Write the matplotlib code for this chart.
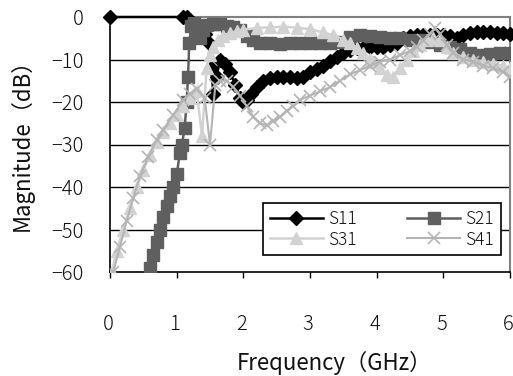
import numpy as np
import matplotlib
matplotlib.use("Agg")
import matplotlib.pyplot as plt
import matplotlib.transforms as mtransforms

plt.rcParams['font.family'] = ['Noto Sans CJK JP', 'DejaVu Sans']
plt.rcParams['font.weight'] = 'light'
plt.rcParams['axes.unicode_minus'] = True

# ---------------- data ----------------
s11_f = [0, 1.10, 1.15, 1.20, 1.25, 1.30, 1.35, 1.42, 1.48, 1.52, 1.55, 1.60, 1.65, 1.72,
         1.80, 1.88, 1.95, 2.00, 2.05, 2.12, 2.20, 2.30, 2.40, 2.50, 2.60, 2.70, 2.80, 2.90,
         3.00, 3.10, 3.20, 3.30, 3.40, 3.50, 3.60, 3.70, 3.80, 3.90, 4.00, 4.10, 4.20, 4.30,
         4.40, 4.50, 4.60, 4.70, 4.80, 4.90, 5.00, 5.10, 5.20, 5.30, 5.40, 5.50, 5.60, 5.70,
         5.80, 5.90, 6.00]
s11_db = [0, 0, 0, -1, -1.5, -2, -2.5, -4, -6, -12, -18, -14, -10, -11,
          -13, -16, -19, -20, -19.5, -18, -16.5, -15, -14.3, -14, -14, -14.2, -14.4, -14,
          -13, -12.3, -11.5, -10.3, -9.3, -8.5, -7.8, -7.4, -7.2, -7, -7, -7, -6.5, -6,
          -5, -4.5, -4.2, -4.2, -4.2, -4.3, -4.3, -4.5, -4.9, -4.3, -3.8, -3.6, -3.6, -3.6,
          -3.7, -3.8, -3.9]

s21_f = [0.60, 0.65, 0.70, 0.75, 0.80, 0.85, 0.90, 0.95, 1.00, 1.05, 1.08, 1.12, 1.15, 1.17,
         1.19, 1.22, 1.26, 1.30, 1.35, 1.40, 1.45, 1.55, 1.65, 1.75, 1.85, 1.95, 2.05, 2.15,
         2.25, 2.40, 2.55, 2.70, 2.85, 3.00, 3.15, 3.30, 3.45, 3.60, 3.75, 3.90, 4.05, 4.20,
         4.35, 4.50, 4.65, 4.80, 4.95, 5.10, 5.25, 5.40, 5.55, 5.70, 5.85, 6.00]
s21_db = [-59, -56, -53, -50, -47, -44.5, -42, -40, -37, -32, -30, -26, -20, -14,
          -6, -2, -1, -3, -5, -3, -1.8, -1.6, -1.7, -2, -2.3, -3, -4.5, -5.5,
          -6, -6.2, -6.3, -6.2, -6, -6, -6, -6, -5.8, -4.8, -4.3, -4.5, -4.8, -5,
          -5, -5.3, -5.4, -5.8, -6.5, -7, -7.5, -8.5, -9, -8.7, -8.5, -8.5]

s31_f = [0.03, 0.10, 0.20, 0.30, 0.40, 0.50, 0.60, 0.70, 0.80, 0.90, 1.00, 1.10, 1.20, 1.30,
         1.38, 1.45, 1.50, 1.55, 1.62, 1.70, 1.80, 1.90, 2.00, 2.20, 2.40, 2.60, 2.80, 3.00,
         3.20, 3.35, 3.50, 3.60, 3.70, 3.80, 3.90, 3.95, 4.05, 4.15, 4.25, 4.35, 4.45, 4.55,
         4.65, 4.75, 4.85, 4.95, 5.05, 5.15, 5.30, 5.45, 5.60, 5.75, 5.90, 6.00]
s31_db = [-60, -55, -50, -45, -40, -36, -32.5, -29.5, -27, -25, -23, -21, -19, -17.5,
          -28, -12, -9, -7, -5.5, -4.5, -3.8, -3.3, -3, -2.6, -2.4, -2.3, -2.5, -2.9,
          -3.6, -4.3, -5.3, -6.2, -7.3, -8.5, -9.8, -10.6, -12, -13.6, -14, -12, -10, -8,
          -6.5, -5.5, -5, -5.5, -7, -8.5, -9.5, -10, -10.5, -11, -11.5, -12]

s41_f = [0.05, 0.15, 0.25, 0.35, 0.45, 0.57, 0.70, 0.80, 0.95, 1.10, 1.20, 1.30, 1.42, 1.50,
         1.58, 1.65, 1.75, 1.85, 1.95, 2.05, 2.15, 2.25, 2.35, 2.45, 2.55, 2.65, 2.75, 2.85,
         3.00, 3.15, 3.30, 3.45, 3.60, 3.75, 3.90, 4.05, 4.20, 4.35, 4.50, 4.60, 4.70, 4.80,
         4.88, 4.95, 5.05, 5.15, 5.30, 5.45, 5.60, 5.75, 5.90, 6.00]
s41_db = [-60, -54, -48, -42.5, -37.5, -33, -29, -26.5, -23, -19.5, -18, -17, -19, -30,
          -16, -15, -15, -16.5, -18.5, -21, -23.5, -25, -25.5, -24.5, -23.5, -22, -21, -19.5,
          -18.5, -17.5, -16.5, -15, -13.5, -12.5, -11.5, -10.5, -10, -9, -8, -7, -5.5, -4,
          -2.5, -4, -6.5, -8.5, -10, -10.5, -11.5, -12, -13, -14]

x_ticks = [0, 1, 2, 3, 4, 5, 6]
y_ticks = [0, -10, -20, -30, -40, -50, -60]
series_names = ['S11', 'S21', 'S31', 'S41']

# ---------------- figure ----------------
W, H = 513, 376
fig = plt.figure(figsize=(W / 100, H / 100), dpi=100)
ax = fig.add_axes([110 / W, 1 - 272 / H, 400 / W, 255 / H])

h11, = ax.plot(s11_f, s11_db, color='black', lw=1.8, marker='D', ms=7, mec='black', mfc='black',
               label=series_names[0], clip_on=False, zorder=3)
h21, = ax.plot(s21_f, s21_db, color='#5f5f5f', lw=1.8, marker='s', ms=8, mec='#5f5f5f',
               mfc='#5f5f5f', label=series_names[1], zorder=4)
h31, = ax.plot(s31_f, s31_db, color='#d2d2d2', lw=1.8, marker='^', ms=9, mec='#d2d2d2',
               mfc='#d2d2d2', label=series_names[2], zorder=5)
h41, = ax.plot(s41_f, s41_db, color='#b4b4b4', lw=1.5, marker='x', ms=9, mew=1.2, mec='#b4b4b4',
               label=series_names[3], zorder=6)

ax.set_xlim(0, 6)
ax.set_ylim(-60, 0)
ax.set_xticks(x_ticks)
ax.set_yticks(y_ticks)
ax.set_xticklabels([str(t) for t in x_ticks])
ax.set_yticklabels([str(t).replace('-', '\u2212') for t in y_ticks])

for yv in y_ticks[1:-1]:
    ax.axhline(yv, color='black', lw=1.0, zorder=1)

ax.spines['left'].set_color('black')
ax.spines['bottom'].set_color('black')
ax.spines['left'].set_linewidth(1.2)
ax.spines['bottom'].set_linewidth(1.2)
ax.spines['top'].set_color('#808080')
ax.spines['right'].set_color('#808080')
ax.spines['top'].set_linewidth(1.5)
ax.spines['right'].set_linewidth(1.5)

ax.tick_params(axis='x', direction='out', length=4, width=1, pad=26, labelsize=14.5,
               labelcolor='#111111')
ax.tick_params(axis='y', length=0, pad=19, labelsize=14.5, labelcolor='#111111')

shift = mtransforms.ScaledTranslation(-2 / 100, 0, fig.dpi_scale_trans)
for lbl in ax.get_xticklabels():
    lbl.set_transform(lbl.get_transform() + shift)

fig.text(334 / W, 1 - 363 / H, 'Frequency\uff08GHz\uff09', ha='center', va='center',
         fontsize=16, color='#111111', fontweight='normal')
fig.text(22 / W, 1 - 139 / H, 'Magnitude\uff08dB\uff09', ha='center', va='center',
         fontsize=16, rotation=90, color='#111111', fontweight='normal')

leg = ax.legend([h11, h31, h21, h41], [series_names[0], series_names[2], series_names[1],
                                       series_names[3]],
                loc='upper left', bbox_to_anchor=((263 - 110) / 400, (272 - 203) / 255),
                ncol=2, fontsize=12.5, frameon=True, fancybox=False,
                framealpha=1, edgecolor='black', handlelength=3.05, handletextpad=0.3,
                columnspacing=2.9, borderaxespad=0, borderpad=0.4, labelspacing=0.15)
leg.get_frame().set_linewidth(1.2)
leg.set_zorder(10)
for t in leg.get_texts():
    t.set_color('#111111')

fig.savefig('out.png', dpi=100)
